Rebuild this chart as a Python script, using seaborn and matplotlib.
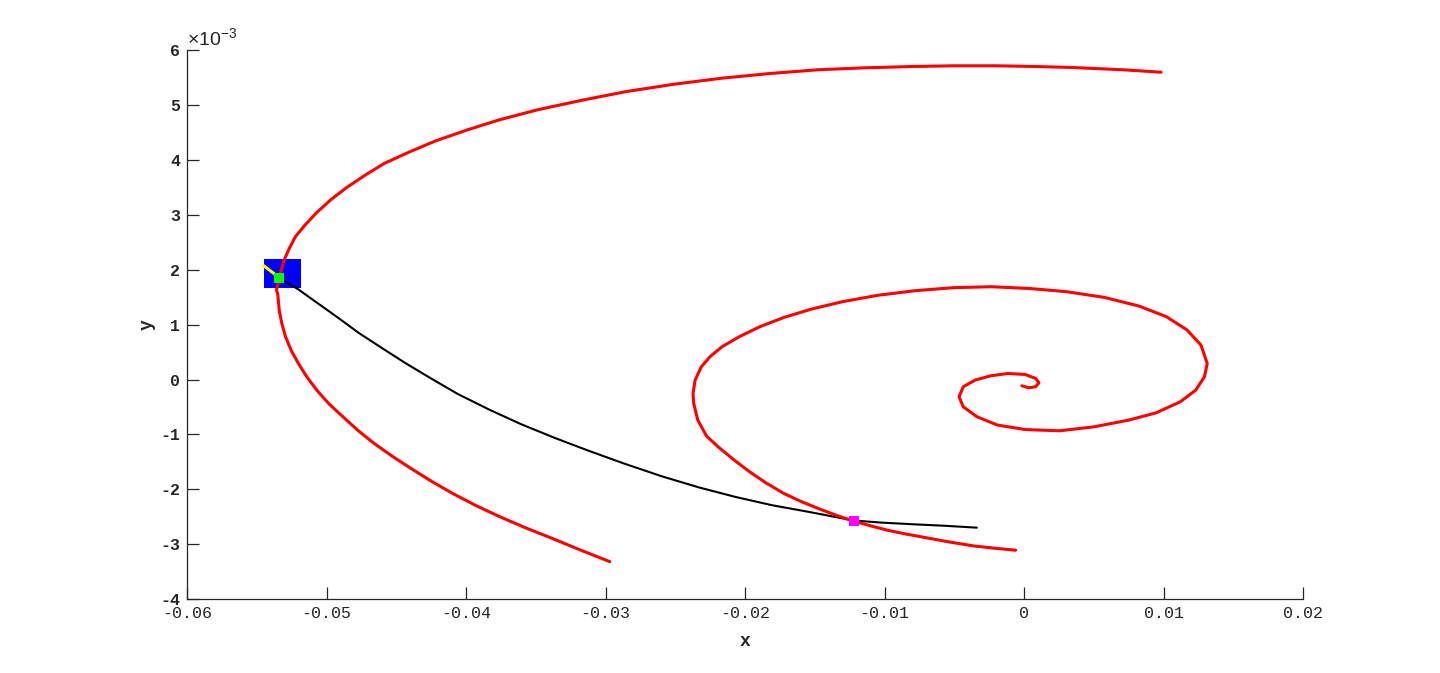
import numpy as np
import pandas as pd
import matplotlib
matplotlib.use("Agg")
import matplotlib.pyplot as plt
import seaborn as sns
from matplotlib.patches import Rectangle

# ---- data (y values given in units of 1e-3) ----
outer_x = [0.00981, 0.00708, 0.00343, 0.00069, -0.00204, -0.00501, -0.00797, -0.01140,
           -0.01481, -0.01824, -0.02166, -0.02509, -0.02850, -0.03170, -0.03489, -0.03763,
           -0.03991, -0.04219, -0.04401, -0.04585, -0.04721, -0.04858, -0.04972, -0.05072,
           -0.05155, -0.05224, -0.05268, -0.05305, -0.05328, -0.05346, -0.05360, -0.05351,
           -0.05340, -0.05321, -0.05294, -0.05254, -0.05201, -0.05141, -0.05069, -0.04984,
           -0.04882, -0.04777, -0.04658, -0.04530, -0.04395, -0.04249, -0.04095, -0.03931,
           -0.03758, -0.03574, -0.03383, -0.03181, -0.02971]
outer_y_e3 = [5.604, 5.648, 5.690, 5.708, 5.721, 5.721, 5.708, 5.684,
              5.648, 5.580, 5.495, 5.385, 5.252, 5.093, 4.918, 4.735,
              4.553, 4.352, 4.157, 3.944, 3.732, 3.500, 3.276, 3.044,
              2.819, 2.606, 2.392, 2.181, 1.967, 1.785, 1.633, 1.560,
              1.257, 1.015, 0.772, 0.529, 0.286, 0.044, -0.199, -0.442,
              -0.682, -0.925, -1.168, -1.398, -1.622, -1.854, -2.079, -2.296,
              -2.502, -2.703, -2.896, -3.108, -3.319]

spiral_x = [-0.000616, -0.00210, -0.00363, -0.00550, -0.00734, -0.00860, -0.00981, -0.01100,
            -0.01221, -0.01350, -0.01475, -0.01600, -0.01722, -0.01850, -0.01968, -0.02085,
            -0.02190, -0.02277, -0.02340, -0.02369, -0.02374, -0.02359, -0.02314, -0.02253,
            -0.02166, -0.02043, -0.01895, -0.01722, -0.01524, -0.01302, -0.01054, -0.00783,
            -0.00511, -0.00240, 0.00032, 0.00304, 0.00575, 0.00822, 0.01020, 0.01168,
            0.01267, 0.01312, 0.01292, 0.01230, 0.01119, 0.00946, 0.00749, 0.00501,
            0.00254, 0.00007, -0.00191, -0.00338, -0.00437, -0.00467, -0.00437, -0.00351,
            -0.00240, -0.00116, 0.00007, 0.00082, 0.00106, 0.00082, 0.00032, -0.00017]
spiral_y_e3 = [-3.111, -3.075, -3.033, -2.955, -2.869, -2.810, -2.746, -2.667,
               -2.582, -2.472, -2.352, -2.222, -2.078, -1.885, -1.682, -1.455,
               -1.235, -1.031, -0.739, -0.436, -0.254, -0.009, 0.234, 0.416,
               0.599, 0.781, 0.964, 1.133, 1.286, 1.420, 1.535, 1.620,
               1.675, 1.693, 1.662, 1.602, 1.498, 1.341, 1.146, 0.903,
               0.630, 0.294, 0.051, -0.192, -0.405, -0.606, -0.739, -0.861,
               -0.934, -0.911, -0.830, -0.679, -0.496, -0.314, -0.131, -0.009,
               0.069, 0.111, 0.093, 0.020, -0.058, -0.131, -0.150, -0.113]

black_x = [-0.05340, -0.05201, -0.05069, -0.04920, -0.04770, -0.04601, -0.04433, -0.04245,
           -0.04058, -0.03833, -0.03608, -0.03364, -0.03120, -0.02858, -0.02596, -0.02333,
           -0.02071, -0.01809, -0.01547, -0.01221, -0.01021, -0.00797, -0.00572, -0.00340]
black_y_e3 = [1.858, 1.640, 1.400, 1.130, 0.850, 0.570, 0.296, 0.010,
              -0.266, -0.550, -0.812, -1.065, -1.300, -1.540, -1.765, -1.965,
              -2.139, -2.290, -2.411, -2.570, -2.608, -2.638, -2.665, -2.700]

yellow_x = [-0.05452, -0.05340]
yellow_y_e3 = [2.077, 1.858]

green_pt = (-0.05340, 1.858)
magenta_pt = (-0.01221, -2.582)
blue_rect = (-0.05449, 1.662, 0.00265, 0.537)   # x0, y0(e-3), width, height(e-3)

xticks = [-0.06, -0.05, -0.04, -0.03, -0.02, -0.01, 0.0, 0.01, 0.02]
xticklabels = ['-0.06', '-0.05', '-0.04', '-0.03', '-0.02', '-0.01', '0', '0.01', '0.02']
yticks_e3 = [-4, -3, -2, -1, 0, 1, 2, 3, 4, 5, 6]
yticklabels = ['-4', '-3', '-2', '-1', '0', '1', '2', '3', '4', '5', '6']

S = 1e-3

sns.set_style("white")
plt.rcParams['font.family'] = ['Liberation Mono', 'DejaVu Sans']
plt.rcParams['mathtext.fontset'] = 'custom'
plt.rcParams['mathtext.rm'] = 'Liberation Sans'

fig = plt.figure(figsize=(14.4, 6.73), dpi=100)
ax = fig.add_axes([0.13, 0.11, 0.775, 0.815])

ax.add_patch(Rectangle((blue_rect[0], blue_rect[1] * S), blue_rect[2], blue_rect[3] * S,
                       facecolor='#0000ff', edgecolor='none', zorder=1))

df_black = pd.DataFrame({'x': black_x, 'y': np.array(black_y_e3) * S})
sns.lineplot(data=df_black, x='x', y='y', sort=False, estimator=None, color='black',
             linewidth=1.5, ax=ax, zorder=2)
df_yel = pd.DataFrame({'x': yellow_x, 'y': np.array(yellow_y_e3) * S})
sns.lineplot(data=df_yel, x='x', y='y', sort=False, estimator=None, color='#ffff00',
             linewidth=2.2, ax=ax, zorder=3)
df_outer = pd.DataFrame({'x': outer_x, 'y': np.array(outer_y_e3) * S})
sns.lineplot(data=df_outer, x='x', y='y', sort=False, estimator=None, color='#ff0000',
             linewidth=2.2, ax=ax, zorder=4)
df_sp = pd.DataFrame({'x': spiral_x, 'y': np.array(spiral_y_e3) * S})
sns.lineplot(data=df_sp, x='x', y='y', sort=False, estimator=None, color='#ff0000',
             linewidth=2.2, ax=ax, zorder=4)

sns.scatterplot(x=[green_pt[0]], y=[green_pt[1] * S], marker='s', s=60, color='#00ff00',
                edgecolor='#00ff00', linewidth=0, ax=ax, zorder=5)
sns.scatterplot(x=[magenta_pt[0]], y=[magenta_pt[1] * S], marker='s', s=60, color='#ff00ff',
                edgecolor='#ff00ff', linewidth=0, ax=ax, zorder=5)

ax.set_xlim(-0.06, 0.02)
ax.set_ylim(-4 * S, 6 * S)
ax.set_xticks(xticks)
ax.set_xticklabels(xticklabels, fontsize=12)
ax.set_yticks(np.array(yticks_e3) * S)
ax.set_yticklabels(yticklabels, fontsize=12, fontweight='bold')

for side in ['top', 'right']:
    ax.spines[side].set_visible(False)
for side in ['left', 'bottom']:
    ax.spines[side].set_color('#262626')
    ax.spines[side].set_linewidth(0.9)
ax.tick_params(direction='in', length=8.4, width=0.9, color='#262626', labelcolor='#262626',
               bottom=True, left=True, top=False, right=False)
ax.tick_params(axis='x', pad=5)
ax.tick_params(axis='y', pad=5)

ax.set_xlabel('x', fontsize=13, fontweight='bold', color='#262626', labelpad=9)
ax.set_ylabel('y', fontsize=13, fontweight='bold', color='#262626', labelpad=3)

ax.text(0.0, 1.002, r'$\times\mathregular{10^{-3}}$', transform=ax.transAxes, ha='left',
        va='bottom', fontsize=14, color='#262626', family='Liberation Sans')

fig.savefig('out.png', dpi=100, facecolor='white')
